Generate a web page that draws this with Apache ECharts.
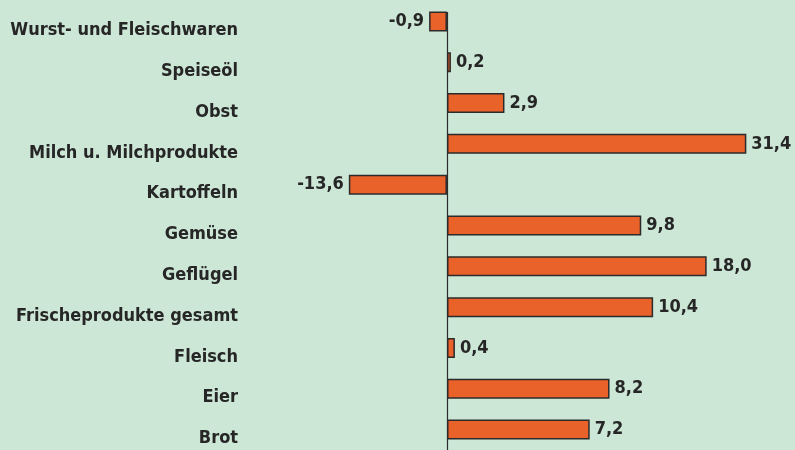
<!DOCTYPE html>
<html>
<head>
<meta charset="utf-8">
<script src="https://cdn.jsdelivr.net/npm/echarts@6/dist/echarts.min.js"></script>
<style>
  html, body { margin: 0; padding: 0; background: #cde7d7; }
  #chart { width: 795px; height: 450px; }
</style>
</head>
<body>
<div id="chart"></div>
<script>
var categories = ['Wurst- und Fleischwaren', 'Speiseöl', 'Obst', 'Milch u. Milchprodukte', 'Kartoffeln',
    'Gemüse', 'Geflügel', 'Frischeprodukte gesamt', 'Fleisch', 'Eier', 'Brot'];
// printed values
var values = [-0.9, 0.2, 2.9, 31.4, -13.6, 9.8, 18.0, 10.4, 0.4, 8.2, 7.2];
// bar lengths as drawn in the original (long bars are shortened there)
var barLength = [-0.9, 0.2, 2.9, 15.1, -4.95, 9.8, 13.1, 10.4, 0.4, 8.2, 7.2];

var fontFam = '"Liberation Sans Narrow", "DejaVu Sans Condensed", sans-serif';

var myChart = echarts.init(document.getElementById('chart'));
var option = {
    backgroundColor: '#cde7d7',
    grid: {
        left: 328,
        right: 11,
        top: 1,
        bottom: 0
    },
    xAxis: {
        type: 'value',
        min: -6,
        max: 17,
        show: false
    },
    yAxis: {
        type: 'category',
        inverse: true,
        data: categories,
        axisLine: { show: false },
        axisTick: { show: false },
        axisLabel: {
            margin: 90,
            lineHeight: 18,
            color: '#262626',
            fontSize: 18,
            fontWeight: 'bold',
            fontFamily: fontFam,
            // category names sit a bit below the bar centre in the original
            formatter: function (v) { return ' \n' + v; }
        }
    },
    series: [
        {
            type: 'bar',
            barWidth: 20,
            data: barLength.map(function (v, i) {
                return {
                    value: v,
                    label: { position: v < 0 ? 'left' : 'right' }
                };
            }),
            itemStyle: {
                color: '#e9622a',
                borderColor: '#2b2b2b',
                borderWidth: 1.5
            },
            label: {
                show: true,
                distance: 5,
                color: '#262626',
                fontSize: 18,
                fontWeight: 'bold',
                fontFamily: fontFam,
                formatter: function (p) {
                    return values[p.dataIndex].toFixed(1).replace('.', ',');
                }
            },
            markLine: {
                silent: true,
                symbol: 'none',
                label: { show: false },
                lineStyle: { color: '#2b2b2b', width: 1.2, type: 'solid' },
                data: [
                    [{ coord: [0, 'Wurst- und Fleischwaren'], y: 12 }, { coord: [0, 'Brot'], y: 450 }]
                ]
            }
        }
    ]
};
myChart.setOption(option);
</script>
</body>
</html>
